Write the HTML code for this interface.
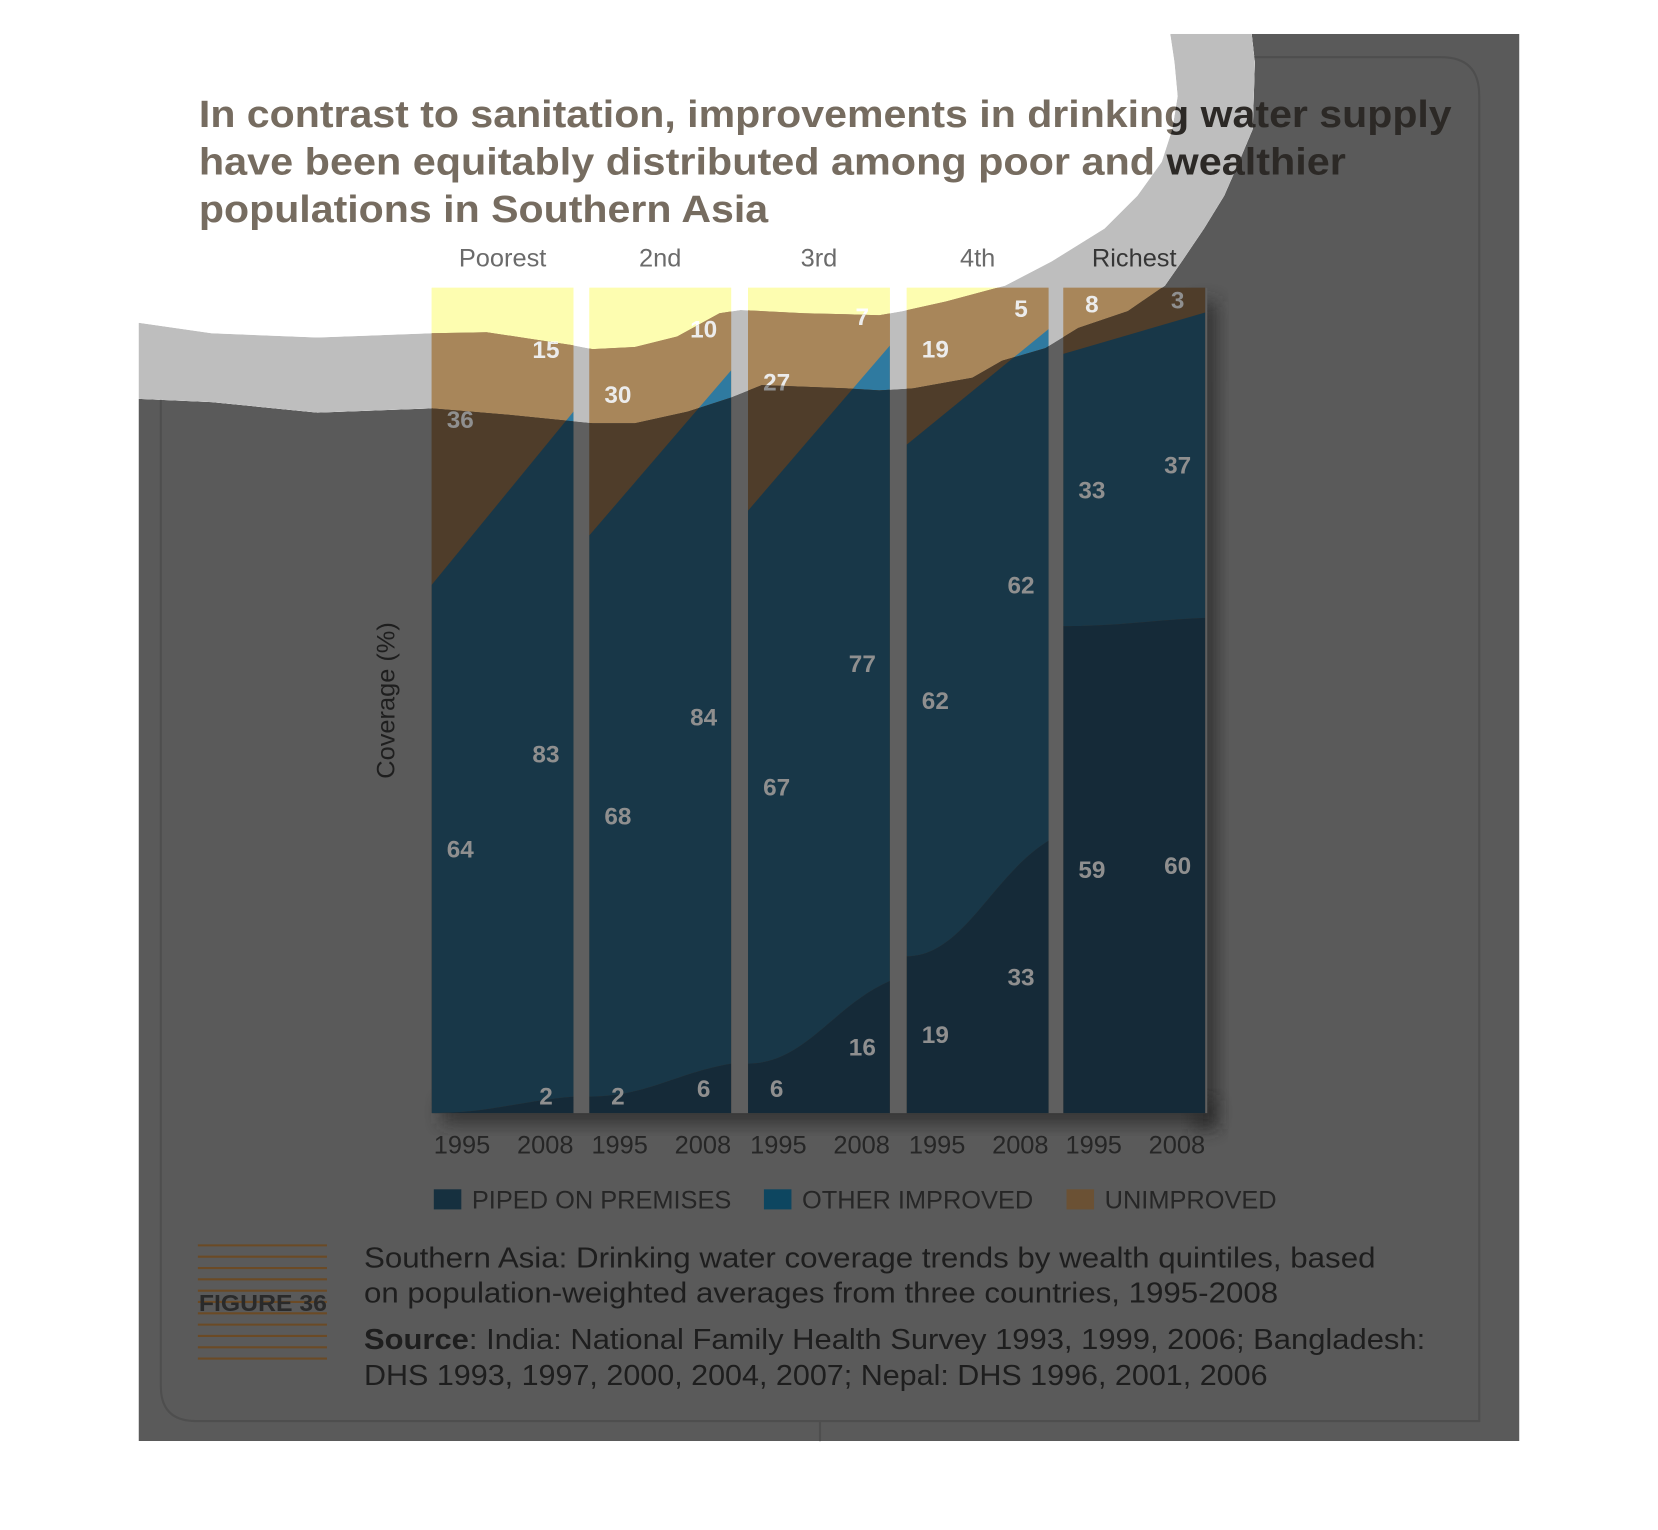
<!DOCTYPE html>
<html><head><meta charset="utf-8"><style>
html,body{margin:0;padding:0;background:#fff;}
svg{display:block;}
.t{font-family:"Liberation Sans",sans-serif;}
.n{font-family:"Liberation Sans Narrow","Liberation Sans",sans-serif;}
</style></head><body>
<svg id="s" width="1658" height="1530" viewBox="0 0 1567 1446" preserveAspectRatio="none" xmlns="http://www.w3.org/2000/svg"></svg>
<script>
const quintiles=["Poorest","2nd","3rd","4th","Richest"];
const years=["1995","2008"];
const piped1995=[0,2,6,19,59];
const piped2008=[2,6,16,33,60];
const other1995=[64,68,67,62,33];
const other2008=[83,84,77,62,37];
const unimp1995=[36,30,27,19,8];
const unimp2008=[15,10,7,5,3];

const NS="http://www.w3.org/2000/svg";
const svg=document.getElementById('s');
const colL=[408,557,707,857,1005], colW=134;
const yTop=272,yBot=1052;
function y(v){return yBot-(yBot-yTop)*v/100;}
function mk(tag,attrs,parent){const e=document.createElementNS(NS,tag);for(const k in attrs)e.setAttribute(k,attrs[k]);parent.appendChild(e);return e;}

const inner=[[131,305],[200,315],[300,319],[408,315],[460,314],[500,320],[540,326],[560,330],[600,328],[640,318],[680,296],[700,293],[760,296],[800,297],[831,298],[853,294],[894,285],[950,270],[994,247],[1044,216],[1075,185],[1098,153],[1108,122],[1113,91],[1110,59],[1106,32]];
const outer=[[131,377],[200,380],[300,390],[408,386],[480,392],[540,398],[560,400],[600,400],[650,389],[690,376],[720,364],[800,367],[831,369],[863,367],[919,357],[947,341],[988,329],[1019,310],[1066,294],[1101,270],[1117,247],[1138,216],[1157,185],[1171,153],[1184,122],[1186,59],[1183,32]];
const pts=a=>a.map(p=>p.join(',')).join(' L');
const darkPath='M'+pts(outer)+' L1436,32 L1436,1362 L131,1362 Z';
const bandPath='M'+pts(inner)+' L'+pts(outer.slice().reverse())+' Z';

const defs=mk('defs',{},svg);
const c1=mk('clipPath',{id:'cb'},defs);mk('path',{d:bandPath},c1);
const c2=mk('clipPath',{id:'cd'},defs);mk('path',{d:darkPath},c2);
const flt=mk('filter',{id:'bl',x:'-50%',y:'-50%',width:'200%',height:'200%'},defs);
mk('feGaussianBlur',{stdDeviation:8},flt);

const pal={
 W:{bg:'#ffffff',gap:'#ffffff',un:'#fdfdb0',ot:'#5fb0d8',pi:'#3a6f8a',lab:'#ffffff',title:'#766c60',q:'#6b6b6b',sh:false},
 B:{bg:'#bebebe',gap:'#bebebe',un:'#a8865a',ot:'#2f7aa0',pi:'#1f4a60',lab:'#ececec',title:'#2c2926',q:'#363636',sh:false},
 D:{bg:'#5a5a5a',gap:'#5f5f5f',un:'#4f3d2a',ot:'#183748',pi:'#152a38',lab:'#8f8f8f',title:'#2c2926',q:'#262626',sh:true}
};

function draw(key,clip,name){
 const p=pal[key];
 const g=mk('g',clip?{'clip-path':'url(#'+clip+')'}:{},svg);
 
 
 mk('path',{d:key==='W'?'M0,0H1567V1446H0Z':(key==='B'?bandPath:darkPath),fill:p.bg},g);
 if(p.sh){
  mk('rect',{x:1128,y:285,width:22,height:782,fill:'#2a2a2a',opacity:0.8,filter:'url(#bl)'},g);
  mk('rect',{x:418,y:1040,width:730,height:22,fill:'#2a2a2a',opacity:0.8,filter:'url(#bl)'},g);
  mk('rect',{x:408,y:yTop,width:733,height:yBot-yTop,fill:p.gap},g);
 }
 const tl=["In contrast to sanitation, improvements in drinking water supply","have been equitably distributed among poor and wealthier","populations in Southern Asia"];
 const tw=[1184,1084,538];
 tl.forEach((s,i)=>{const t=mk('text',{x:188,y:120+i*45,'font-size':36,'font-weight':'bold',fill:p.title,class:'t',textLength:tw[i],lengthAdjust:'spacingAndGlyphs'},g);t.textContent=s;
  
  });
 for(let i=0;i<5;i++){
  const x0=colL[i],x1=x0+colW;
  const cg=mk('g',{},g);
  
  
  mk('rect',{x:x0,y:yTop,width:colW,height:yBot-yTop,fill:p.un},cg);
  const p0=piped1995[i],p8=piped2008[i],o0=p0+other1995[i],o8=p8+other2008[i];
  let a=mk('path',{d:`M${x0},${y(o0)}L${x1},${y(o8)}L${x1},${yTop}L${x0},${yTop}Z`,fill:p.un},cg);
  
  
  a=mk('path',{d:`M${x0},${y(p0)}C${x0+colW*0.4},${y(p0)} ${x1-colW*0.4},${y(p8)+(y(p0)-y(p8))*0.3} ${x1},${y(p8)}L${x1},${y(o8)}L${x0},${y(o0)}Z`,fill:p.ot},cg);
  
  
  a=mk('path',{d:`M${x0},${y(p0)}C${x0+colW*0.4},${y(p0)} ${x1-colW*0.4},${y(p8)+(y(p0)-y(p8))*0.3} ${x1},${y(p8)}L${x1},${yBot}L${x0},${yBot}Z`,fill:p.pi},cg);
  
  
  const labs=[[x0+27,p0,0,p0,0],[x0+27,other1995[i],p0,o0,0],[x0+27,unimp1995[i],o0,100,-16],[x1-26,p8,0,p8,0],[x1-26,other2008[i],p8,o8,0],[x1-26,unimp2008[i],o8,100,0]];
  labs.forEach(l=>{if(l[1]<=0)return;let cy=(y(l[2])+y(l[3]))/2+l[4];if(cy>1036)cy=1036;
   const t=mk('text',{x:l[0],y:cy+8,'text-anchor':'middle','font-size':23,'font-weight':'bold',fill:p.lab,class:'n'},cg);t.textContent=l[1];
   
   });
  const q=mk('text',{x:x0+67,y:252,'text-anchor':'middle','font-size':24,fill:p.q,class:'n'},g);q.textContent=quintiles[i];
  
  
  years.forEach((yr,j)=>{const t=mk('text',{x:j?x1:x0+2,y:1090,'text-anchor':j?'end':'start','font-size':24,fill:'#262626',class:'n'},g);t.textContent=yr;
   
   });
 }
 return g;
}
draw('W',null,'light-layer');
draw('B','cb','band-layer');
draw('D','cd','dark-layer');

let f=mk('path',{d:'M152,307V1310Q152,1343 185,1343H1398V90Q1398,54 1362,54H1110',fill:'none',stroke:'#4e4e4e','stroke-width':2,'clip-path':'url(#cd)'},svg);


mk('line',{x1:775,y1:1343,x2:775,y2:1362,stroke:'#4e4e4e','stroke-width':2},svg);

const ax=mk('text',{x:0,y:0,transform:'translate(373,662) rotate(-90)','text-anchor':'middle','font-size':24,fill:'#1e1e1e',class:'n'},svg);
ax.textContent='Coverage (%)';



const leg=[['PIPED ON PREMISES','#16303f',410],['OTHER IMPROVED','#0d4660',722],['UNIMPROVED','#6b5134',1008]];
leg.forEach(l=>{const g=mk('g',{},svg);
 
 
 mk('rect',{x:l[2],y:1124,width:26,height:19,fill:l[1]},g);
 const t=mk('text',{x:l[2]+36,y:1142,'font-size':24,fill:'#262626',class:'t'},g);t.textContent=l[0];});

for(let i=0;i<11;i++){mk('line',{x1:187,x2:309,y1:1177+i*10.7,y2:1177+i*10.7,stroke:'#6b4a25','stroke-width':2},svg);}
const fl=mk('text',{x:188,y:1239,'font-size':22,'font-weight':'bold',fill:'#2a2a2a',class:'n',textLength:121,lengthAdjust:'spacingAndGlyphs'},svg);fl.textContent='FIGURE 36';


const cap=[[1198,'Southern Asia: Drinking water coverage trends by wealth quintiles, based',956],[1231,'on population-weighted averages from three countries, 1995-2008',864]];
cap.forEach(c=>{const t=mk('text',{x:344,y:c[0],'font-size':27,fill:'#1e1e1e',class:'t',textLength:c[2],lengthAdjust:'spacingAndGlyphs'},svg);t.textContent=c[1];
 
 });
const s1=mk('text',{x:344,y:1275,'font-size':27,fill:'#1e1e1e',class:'t',textLength:1003,lengthAdjust:'spacingAndGlyphs'},svg);
s1.innerHTML='<tspan font-weight="bold">Source</tspan>: India: National Family Health Survey 1993, 1999, 2006; Bangladesh:';


const s2=mk('text',{x:344,y:1309,'font-size':27,fill:'#1e1e1e',class:'t',textLength:854,lengthAdjust:'spacingAndGlyphs'},svg);
s2.textContent='DHS 1993, 1997, 2000, 2004, 2007; Nepal: DHS 1996, 2001, 2006';


</script>
</body></html>
